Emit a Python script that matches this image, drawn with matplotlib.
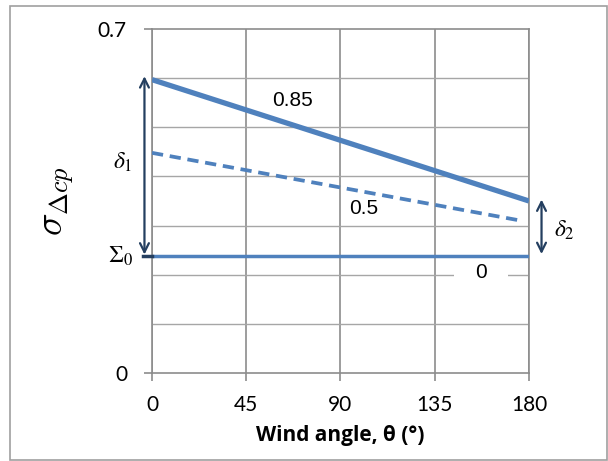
import matplotlib
matplotlib.use("Agg")
import matplotlib.pyplot as plt
from matplotlib.patches import Rectangle

plt.rcParams['mathtext.fontset'] = 'stix'

# Data
angles = [0, 180]
line_085 = [0.597, 0.350]
line_05 = [0.448, 0.307]
line_0 = [0.239, 0.239]
sigma0 = 0.239
x_ticks = [0, 45, 90, 135, 180]

blue = '#4F81BD'
navy = '#243F60'
grid_c = '#A6A6A6'

fig = plt.figure(figsize=(6.08, 4.61), dpi=100)
ax = fig.add_axes([0.25, 0.191, 0.62, 0.746])

# outer border
fig.patches.append(Rectangle((10 / 608, 1 - 460 / 461), 597 / 608, 454 / 461,
                             transform=fig.transFigure, fill=False,
                             edgecolor='#A0A0A0', linewidth=1.2))

ax.plot(angles, line_085, color=blue, lw=3.8, solid_capstyle='butt', zorder=3)
ax.plot([0, 177], [line_05[0], line_05[0] + (line_05[1] - line_05[0]) * 177 / 180],
        color=blue, lw=2.7, dashes=(3, 1.8), zorder=3)
ax.plot(angles, line_0, color=blue, lw=2.5, solid_capstyle='butt', zorder=3)

ax.set_xlim(0, 180)
ax.set_ylim(0, 0.7)
ax.set_xticks(x_ticks)
ax.set_xticklabels([str(t) for t in x_ticks], fontsize=15, family='Lato')
ax.set_yticks([0, 0.7])
ax.set_yticklabels(['0', '0.7'], fontsize=15, family='Lato')
ax.set_yticks([i / 10 for i in range(8)], minor=True)
ax.tick_params(axis='y', which='minor', length=0)
ax.tick_params(axis='y', which='major', length=6, color='#8C8C8C', width=1.2, pad=12)
ax.tick_params(axis='x', which='major', length=6, color='#8C8C8C', width=1.2, pad=10)
ax.grid(True, which='major', axis='x', color='#8C8C8C', lw=1.2)
ax.grid(True, which='minor', axis='y', color=grid_c, lw=1.0)
for s in ax.spines.values():
    s.set_color('#8C8C8C')
    s.set_linewidth(1.2)
ax.set_axisbelow(True)

ax.set_xlabel('Wind angle, θ (°)', fontsize=15, fontweight='bold', family='Open Sans',
              labelpad=7)
ax.set_ylabel(r'$\sigma_{\Delta cp}$', fontsize=27, labelpad=16, math_fontfamily='cm')

# sigma0 marker on y axis
ax.plot([-4.5, 0], [sigma0, sigma0], color=navy, lw=2.5, clip_on=False, zorder=4)
ax.text(-9, sigma0, r'$\Sigma_0$', fontsize=17, ha='right', va='center')

# delta arrows
ax.annotate('', xy=(-3.6, sigma0 + 0.002), xytext=(-3.6, 0.604),
            arrowprops=dict(arrowstyle='<->', color=navy, lw=1.6,
                            mutation_scale=16, shrinkA=0, shrinkB=0),
            annotation_clip=False)
ax.text(-14, 0.43, r'$\delta_1$', fontsize=17, ha='center', va='center')
ax.annotate('', xy=(6.0 + 180, 0.242), xytext=(6.0 + 180, 0.353),
            arrowprops=dict(arrowstyle='<->', color=navy, lw=1.6,
                            mutation_scale=16, shrinkA=0, shrinkB=0),
            annotation_clip=False)
ax.text(197, 0.29, r'$\delta_2$', fontsize=17, ha='center', va='center')

# series labels
ax.text(67, 0.555, '0.85', fontsize=15, family='Liberation Sans', ha='center', va='center')
ax.text(101, 0.335, '0.5', fontsize=15, family='Liberation Sans', ha='center', va='center')
ax.text(157, 0.205, '0', fontsize=15, family='Liberation Sans', ha='center', va='center',
        bbox=dict(facecolor='white', edgecolor='none', pad=1, boxstyle='square'),
        zorder=2.5)

fig.savefig('out.png', dpi=100)
